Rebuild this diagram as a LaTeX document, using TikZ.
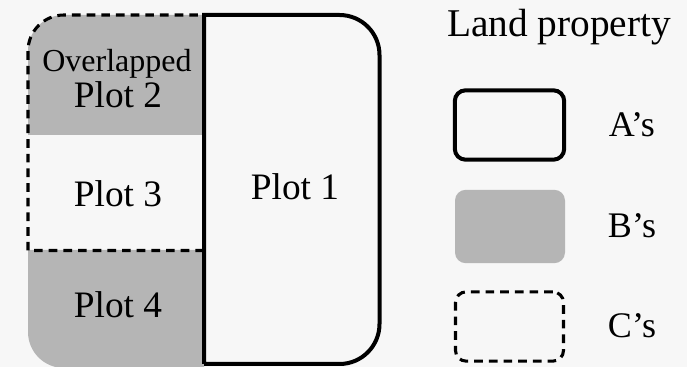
\documentclass[tikz,border=0pt]{standalone}
\usepackage{fontspec}
\setmainfont{Liberation Serif}
\definecolor{plotgrey}{HTML}{B5B5B5}
\definecolor{paper}{HTML}{F7F7F7}
\tikzset{
  ownerA/.style={draw=black, line width=3pt},
  ownerB/.style={fill=plotgrey, draw=none},
  ownerC/.style={draw=black, line width=2.3pt, dash pattern=on 6.5pt off 4.5pt},
  plotlabel/.style={font=\fontsize{28}{30}\selectfont, anchor=base},
  keylabel/.style={font=\fontsize{27}{30}\selectfont, anchor=base},
  keybox/.style={rounded corners=8pt, inner sep=0pt}
}

\begin{document}
\begin{tikzpicture}[x=0.75pt, y=-0.75pt]
    \fill[paper] (0,0) rectangle (687,367);
    \useasboundingbox (0,0) rectangle (687,367);

    % B's land: plots 2 and 4
    \fill[ownerB] (204,135) -- (28,135) {[rounded corners=27pt] -- (28,15)} -- (204,15) -- cycle;
    \fill[ownerB] (204,250) -- (28,250) {[rounded corners=27pt] -- (28,368)} -- (204,368) -- cycle;

    % C's land: plots 2 and 3
    \draw[ownerC] (204,250.5) -- (28,250.5) {[rounded corners=27pt] -- (28,15)} -- (204,15);

    % A's land: plot 1
    \draw[ownerA] (204,364) -- (204,15) {[rounded corners=30pt] -- (379.5,15) -- (379.5,364)} -- (204,364);

    \node[plotlabel, font=\fontsize{24}{26}\selectfont] (over) at (117,72) {Overlapped};
    \node[plotlabel] (plot2) at (118,108) {Plot 2};
    \node[plotlabel] (plot3) at (118,207) {Plot 3};
    \node[plotlabel] (plot4) at (118,318) {Plot 4};
    \node[plotlabel] (plot1) at (295,200) {Plot 1};

    % legend
    \node[plotlabel, font=\fontsize{29.5}{32}\selectfont] (legend) at (559,37) {Land property};
    \node[keybox, ownerA, minimum width=82pt, minimum height=52pt] (keyA) at (509.5,125) {};
    \node[keybox, ownerB, minimum width=82.5pt, minimum height=55pt] (keyB) at (510,226.5) {};
    \node[keybox, ownerC, minimum width=81pt, minimum height=52pt] (keyC) at (509.5,326.5) {};
    \node[keylabel] (labA) at (632,137) {A’s};
    \node[keylabel] (labB) at (632,238) {B’s};
    \node[keylabel] (labC) at (632,338) {C’s};
\end{tikzpicture}
\end{document}
